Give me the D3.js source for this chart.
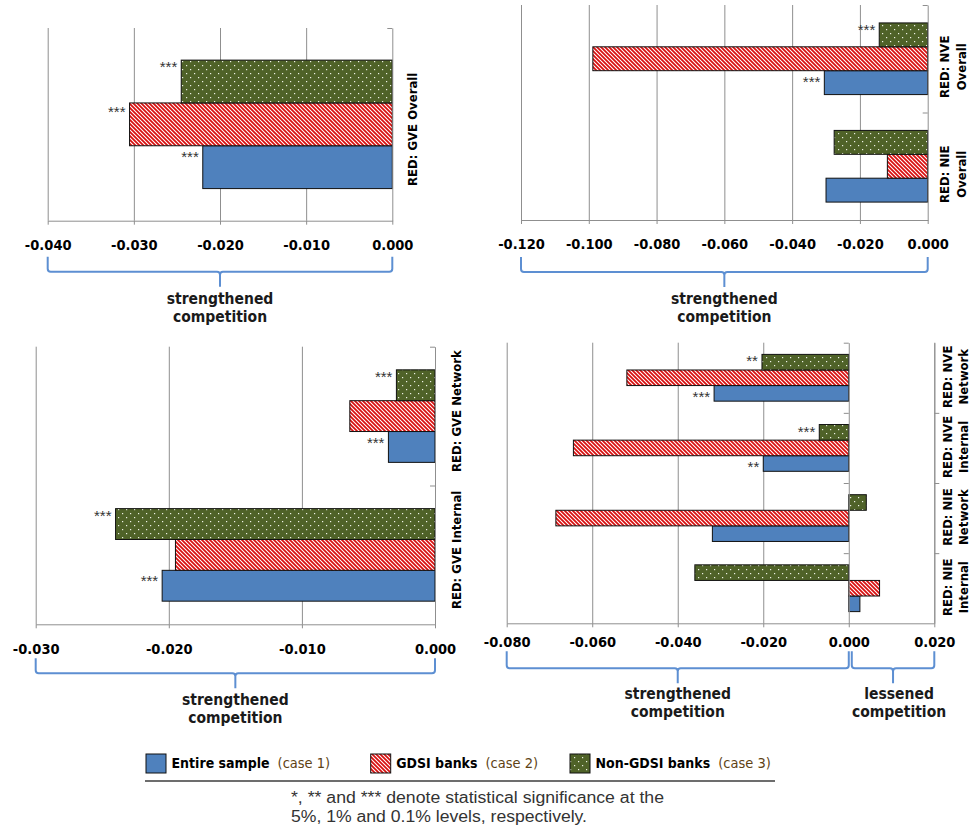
<!DOCTYPE html>
<html>
<head>
<meta charset="utf-8">
<script src="https://cdn.jsdelivr.net/npm/d3@7"></script>
<style>
body { margin: 0; background: #fff; }
.cond { font-family: "DejaVu Sans Condensed", "DejaVu Sans", sans-serif; font-stretch: condensed; }
</style>
</head>
<body>
<svg id="chart" width="971" height="834"></svg>
<script>
// series
var seriesKeys  = ["entire", "gdsi", "nongdsi"];
var seriesNames = ["Entire sample", "GDSI banks", "Non-GDSI banks"];
var seriesCases = ["(case 1)", "(case 2)", "(case 3)"];

// panel 1: GVE overall
var gveOverallCats     = [["RED: GVE Overall"]];
var gveOverallEntire   = [-0.0220];
var gveOverallGdsi     = [-0.0305];
var gveOverallNonGdsi  = [-0.0245];
var gveOverallStars    = [["***", "***", "***"]];
var gveOverallTicks    = [-0.04, -0.03, -0.02, -0.01, 0];
var gveOverallBraces   = [[-0.04, 0, "strengthened", "competition"]];

// panel 2: NVE / NIE overall
var nOverallCats    = [["RED: NVE", "Overall"], ["RED: NIE", "Overall"]];
var nOverallEntire  = [-0.0305, -0.0300];
var nOverallGdsi    = [-0.0988, -0.0119];
var nOverallNonGdsi = [-0.0143, -0.0276];
var nOverallStars   = [["***", "", "***"], ["", "", ""]];
var nOverallTicks   = [-0.12, -0.10, -0.08, -0.06, -0.04, -0.02, 0];
var nOverallBraces  = [[-0.12, 0, "strengthened", "competition"]];

// panel 3: GVE network / internal
var gveSplitCats    = [["RED: GVE Network"], ["RED: GVE Internal"]];
var gveSplitEntire  = [-0.0035, -0.0205];
var gveSplitGdsi    = [-0.0064, -0.0195];
var gveSplitNonGdsi = [-0.0029, -0.0240];
var gveSplitStars   = [["***", "", "***"], ["***", "", "***"]];
var gveSplitTicks   = [-0.03, -0.02, -0.01, 0];
var gveSplitBraces  = [[-0.03, 0, "strengthened", "competition"]];

// panel 4: NVE / NIE network / internal
var nSplitCats    = [["RED: NVE", "Network"], ["RED: NVE", "Internal"], ["RED: NIE", "Network"], ["RED: NIE", "Internal"]];
var nSplitEntire  = [-0.0315, -0.0200, -0.0319, 0.0026];
var nSplitGdsi    = [-0.0519, -0.0644, -0.0685, 0.0072];
var nSplitNonGdsi = [-0.0203, -0.0069, 0.0041, -0.0360];
var nSplitStars   = [["***", "", "**"], ["**", "", "***"], ["", "", ""], ["", "", ""]];
var nSplitTicks   = [-0.08, -0.06, -0.04, -0.02, 0, 0.02];
var nSplitBraces  = [[-0.08, 0, "strengthened", "competition"], [0, 0.02, "lessened", "competition"]];

var footnote = ["*, ** and *** denote statistical significance at the",
                "5%, 1% and 0.1% levels, respectively."];

// layout
var panels = [
  {cats: gveOverallCats, vals: [gveOverallEntire, gveOverallGdsi, gveOverallNonGdsi], stars: gveOverallStars,
   ticks: gveOverallTicks, braces: gveOverallBraces,
   x0: 47.7, x1: 392.3, top: 28, bottom: 220.7, tickPad: 15, labelDx: 25, labelGap: 17, labelDy: 5,
   br: {top: 36, line: 51, stub: 66, t1: 83, t2: 101}, edge: false},
  {cats: nOverallCats, vals: [nOverallEntire, nOverallGdsi, nOverallNonGdsi], stars: nOverallStars,
   ticks: nOverallTicks, braces: nOverallBraces,
   x0: 521, x1: 927.7, top: 5, bottom: 220, tickPad: 15, labelDx: 21, labelGap: 17.5, labelDy: 8,
   br: {top: 37, line: 52, stub: 67, t1: 84, t2: 102}, edge: false},
  {cats: gveSplitCats, vals: [gveSplitEntire, gveSplitGdsi, gveSplitNonGdsi], stars: gveSplitStars,
   ticks: gveSplitTicks, braces: gveSplitBraces,
   x0: 35.7, x1: 435, top: 346.7, bottom: 624.3, tickPad: 15, labelDx: 26, labelGap: 17, labelDy: -5,
   br: {top: 34, line: 49, stub: 64, t1: 81, t2: 99}, edge: false},
  {cats: nSplitCats, vals: [nSplitEntire, nSplitGdsi, nSplitNonGdsi], stars: nSplitStars,
   ticks: nSplitTicks, braces: nSplitBraces,
   x0: 506.7, x1: 934.3, top: 342.7, bottom: 623.3, tickPad: 9, labelDx: 18, labelGap: 15.7, labelDy: -1,
   br: {top: 28, line: 45, stub: 60, t1: 76, t2: 94}, edge: true}
];

var fills = {entire: "#4f81bd", gdsi: "url(#hatch)", nongdsi: "url(#dots)"};
var starDy = {entire: 16, gdsi: 14, nongdsi: 12};
var gridColor = "#8f8f8f";
var braceColor = "#5d8fd2";

var svg = d3.select("#chart");
var defs = svg.append("defs");

var hatch = defs.append("pattern").attr("id", "hatch")
    .attr("patternUnits", "userSpaceOnUse").attr("width", 8).attr("height", 8);
hatch.append("rect").attr("width", 8).attr("height", 8).attr("fill", "#d90f0f");
hatch.append("path")
    .attr("d", "M-1,-1L9,9M3,-1L9,5M-1,3L5,9M7,-1L9,1M-1,7L1,9")
    .attr("stroke", "#fff").attr("stroke-width", 1.05);

var dots = defs.append("pattern").attr("id", "dots")
    .attr("patternUnits", "userSpaceOnUse").attr("width", 8).attr("height", 8);
dots.append("rect").attr("width", 8).attr("height", 8).attr("fill", "#4f6228");
dots.append("rect").attr("x", 2).attr("y", 1).attr("width", 1.2).attr("height", 1.2).attr("fill", "#eef2e6");
dots.append("rect").attr("x", 6).attr("y", 5).attr("width", 1.2).attr("height", 1.2).attr("fill", "#eef2e6");

var fmt = function(d) { return d3.format(".3f")(d).replace("\u2212", "-"); };

panels.forEach(function(p) {
  var g = svg.append("g");
  var x = d3.scaleLinear().domain(d3.extent(p.ticks)).range([p.x0, p.x1]);
  var y = d3.scaleBand().domain(d3.range(p.cats.length)).range([p.top, p.bottom]);
  var inner = d3.scaleBand().domain(["nongdsi", "gdsi", "entire"])
      .range([0, y.bandwidth()]).paddingInner(0).paddingOuter(0.75);
  var h = p.bottom - p.top;

  // gridlines
  var grid = g.append("g").attr("transform", "translate(0," + p.bottom + ")")
      .call(d3.axisBottom(x).tickValues(p.ticks.filter(function(t) { return t !== 0; }))
        .tickSize(-h).tickFormat(""));
  grid.select(".domain").remove();
  grid.selectAll("line").attr("stroke", gridColor);

  // bars
  p.cats.forEach(function(c, i) {
    seriesKeys.forEach(function(k, s) {
      var v = p.vals[s][i];
      var by = y(i) + inner(k);
      g.append("rect")
        .attr("x", x(Math.min(0, v)))
        .attr("y", by)
        .attr("width", Math.abs(x(v) - x(0)))
        .attr("height", inner.bandwidth())
        .attr("fill", fills[k])
        .attr("stroke", "#111")
        .attr("stroke-width", 1);
      var st = p.stars[i][s];
      if (st) {
        g.append("text")
          .attr("x", x(v) - 4)
          .attr("y", by + starDy[k])
          .attr("text-anchor", "end")
          .style("font-family", "'Liberation Sans', Arial, sans-serif")
          .style("font-size", "15px")
          .attr("fill", "#333")
          .text(st);
      }
    });
  });

  // bottom value axis
  var ax = g.append("g").attr("transform", "translate(0," + p.bottom + ")")
      .call(d3.axisBottom(x).tickValues(p.ticks).tickSize(4).tickSizeOuter(0)
        .tickPadding(p.tickPad).tickFormat(fmt));
  ax.select(".domain").attr("stroke", gridColor);
  ax.selectAll("line").attr("stroke", gridColor);
  ax.selectAll("text").attr("class", "cond")
    .style("font-size", "14.5px").style("font-weight", "bold").attr("fill", "#000");

  // category axis at zero
  var cy = d3.scaleLinear().domain([0, p.cats.length]).range([p.top, p.bottom]);
  var ca = g.append("g").attr("transform", "translate(" + x(0) + ",0)")
      .call(d3.axisLeft(cy).tickValues(d3.range(p.cats.length)).tickSize(5).tickSizeOuter(0).tickFormat(""));
  ca.select(".domain").attr("stroke", gridColor);
  ca.selectAll("line").attr("stroke", gridColor);
  if (p.edge) {
    var ea = g.append("g").attr("transform", "translate(" + p.x1 + ",0)")
        .call(d3.axisRight(cy).tickValues(d3.range(1, p.cats.length)).tickSize(5).tickSizeOuter(0).tickFormat(""));
    ea.select(".domain").attr("stroke", gridColor);
    ea.selectAll("line").attr("stroke", gridColor);
  }

  // category labels
  p.cats.forEach(function(c, i) {
    var yc = y(i) + y.bandwidth() / 2 + p.labelDy;
    c.forEach(function(line, j) {
      g.append("text")
        .attr("class", "cond")
        .attr("transform", "translate(" + (p.x1 + p.labelDx + j * p.labelGap) + "," + yc + ") rotate(-90)")
        .attr("text-anchor", "middle")
        .style("font-size", "13px").style("font-weight", "bold")
        .attr("fill", "#000")
        .text(line);
    });
  });

  // braces
  p.braces.forEach(function(b) {
    var a = x(b[0]) + (b[0] === 0 ? 3 : 0), e = x(b[1]), m = (a + e) / 2;
    var y0 = p.bottom + p.br.top, y1 = p.bottom + p.br.line, y2 = p.bottom + p.br.stub, r = 3;
    var d = "M" + a + "," + y0 + "L" + a + "," + (y1 - r) + "Q" + a + "," + y1 + " " + (a + r) + "," + y1 +
            "L" + (m - r) + "," + y1 + "Q" + m + "," + y1 + " " + m + "," + (y1 + r) + "L" + m + "," + y2 +
            "M" + m + "," + (y1 + r) + "Q" + m + "," + y1 + " " + (m + r) + "," + y1 +
            "L" + (e - r) + "," + y1 + "Q" + e + "," + y1 + " " + e + "," + (y1 - r) + "L" + e + "," + y0;
    g.append("path").attr("d", d).attr("fill", "none")
      .attr("stroke", braceColor).attr("stroke-width", 2);
    [b[2], b[3]].forEach(function(t, j) {
      g.append("text").attr("class", "cond")
        .attr("x", m + (b[0] === 0 ? 6 : 0))
        .attr("y", p.bottom + (j === 0 ? p.br.t1 : p.br.t2))
        .attr("text-anchor", "middle")
        .style("font-size", "15.5px").style("font-weight", "bold")
        .attr("fill", "#1a1a1a")
        .text(t);
    });
  });
});

// legend
var legendX = [146, 370.7, 570];
var leg = svg.append("g");
seriesKeys.forEach(function(k, i) {
  leg.append("rect")
    .attr("x", legendX[i]).attr("y", 754)
    .attr("width", 20).attr("height", 19)
    .attr("fill", fills[k]).attr("stroke", "#111").attr("stroke-width", 1);
  var t = leg.append("text").attr("class", "cond")
    .attr("x", legendX[i] + 25.5).attr("y", 768)
    .style("font-size", "14px");
  t.append("tspan").style("font-weight", "bold").attr("fill", "#000").text(seriesNames[i]);
  t.append("tspan").attr("dx", 8).attr("fill", "#5e4214").style("font-size", "14.5px").text(seriesCases[i]);
});

svg.append("line")
  .attr("x1", 145).attr("x2", 775).attr("y1", 781).attr("y2", 781)
  .attr("stroke", "#3c3c3c").attr("stroke-width", 1.5);

svg.selectAll(".foot").data(footnote).enter().append("text")
  .attr("class", "foot")
  .attr("x", 291)
  .attr("y", function(d, i) { return 803 + i * 18.7; })
  .attr("textLength", function(d, i) { return i === 0 ? 373 : 296; })
  .attr("lengthAdjust", "spacingAndGlyphs")
  .style("font-family", "'Liberation Sans Narrow', 'Liberation Sans', Arial, sans-serif")
  .style("font-size", "16px")
  .attr("fill", "#333")
  .text(function(d) { return d; });
</script>
</body>
</html>
